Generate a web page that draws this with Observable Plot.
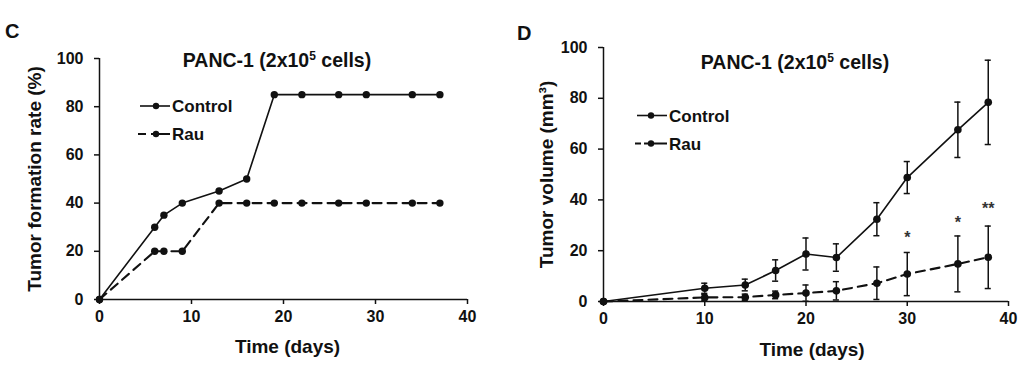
<!DOCTYPE html>
<html>
<head>
<meta charset="utf-8">
<script src="https://cdn.jsdelivr.net/npm/d3@7"></script>
<script src="https://cdn.jsdelivr.net/npm/@observablehq/plot@0.6"></script>
<style>
  html, body { margin: 0; padding: 0; background: #fff; }
  #wrap { position: relative; width: 1024px; height: 378px; background: #fff; overflow: hidden; }
  #wrap svg { position: absolute; top: 0; }
</style>
</head>
<body>
<div id="wrap"></div>
<script>
// ---- Panel C: tumor formation rate ----
const rateDays = [0, 6, 7, 9, 13, 16, 19, 22, 26, 29, 34, 37];
const rateControl = [0, 30, 35, 40, 45, 50, 85, 85, 85, 85, 85, 85];
const rateRau = [0, 20, 20, 20, 40, 40, 40, 40, 40, 40, 40, 40];

// ---- Panel D: tumor volume ----
const volDays = [0, 10, 14, 17, 20, 23, 27, 30, 35, 38];
const volControl = [0, 5.2, 6.5, 12.2, 18.7, 17.3, 32.4, 48.8, 67.6, 78.4];
const volControlErr = [0, 2.0, 2.3, 4.2, 6.3, 5.4, 6.5, 6.3, 10.9, 16.6];
const volRau = [0, 1.6, 1.7, 2.6, 3.3, 4.2, 7.2, 10.8, 14.8, 17.4];
const volRauErr = [0, 1.2, 1.2, 1.5, 3.2, 3.6, 6.4, 8.5, 11.0, 12.3];

// significance marks
const starDays = [30, 35, 38];
const starY = [26.8, 32.7, 38.2];
const starText = ["*", "*", "**"];

// ticks
const xTicks = [0, 10, 20, 30, 40];
const yTicks = [0, 20, 40, 60, 80, 100];

const seriesNames = ["Control", "Rau"];
const panelTitle = ["PANC-1 (2x10", "5", " cells)"];

const FONT = "'Liberation Sans', Arial, Helvetica, sans-serif";
const INK = "#111";

const rateData = rateDays.flatMap((d, i) => [
  {day: d, value: rateControl[i], group: "Control"},
  {day: d, value: rateRau[i], group: "Rau"}
]);
const volData = volDays.flatMap((d, i) => [
  {day: d, value: volControl[i], err: volControlErr[i], group: "Control"},
  {day: d, value: volRau[i], err: volRauErr[i], group: "Rau"}
]);
const starData = starDays.map((d, i) => ({day: d, y: starY[i], t: starText[i]}));

function commonAxes() {
  return [
    Plot.axisX({ticks: xTicks, tickSize: 5, tickPadding: 6, fontSize: 16, fontWeight: "bold", label: null, stroke: INK, strokeWidth: 1.5, fill: INK}),
    Plot.axisY({ticks: yTicks, tickSize: 5, tickPadding: 11, fontSize: 16, fontWeight: "bold", label: null, stroke: INK, strokeWidth: 1.5, fill: INK}),
    Plot.ruleY([0], {stroke: INK, strokeWidth: 1.5}),
    Plot.ruleX([0], {y1: 0, y2: 100, stroke: INK, strokeWidth: 1.5})
  ];
}

function lineMarks(data, r) {
  return [
    Plot.line(data.filter(d => d.group === "Control"), {x: "day", y: "value", stroke: INK, strokeWidth: 1.6}),
    Plot.line(data.filter(d => d.group === "Rau"), {x: "day", y: "value", stroke: INK, strokeWidth: 2.1, strokeDasharray: "9,6"}),
    Plot.dot(data, {x: "day", y: "value", r: r, fill: INK, stroke: "none"})
  ];
}

const plotC = Plot.plot({
  width: 512, height: 378,
  marginLeft: 99, marginRight: 45, marginTop: 58, marginBottom: 79,
  x: {domain: [0, 40]},
  y: {domain: [0, 100]},
  style: {fontFamily: FONT, background: "white", color: INK, overflow: "visible"},
  marks: [
    ...commonAxes(),
    ...lineMarks(rateData, 3.7),
    Plot.text(["Tumor formation rate (%)"], {frameAnchor: "left", rotate: -90, dx: -65, fontSize: 19, fontWeight: "bold", fill: INK, textAnchor: "middle", lineAnchor: "middle"}),
    Plot.text(["Time (days)"], {frameAnchor: "bottom", dy: 47, dx: 4, fontSize: 19, fontWeight: "bold", fill: INK, textAnchor: "middle", lineAnchor: "middle"})
  ]
});

const plotD = Plot.plot({
  width: 512, height: 378,
  marginLeft: 91, marginRight: 16, marginTop: 47, marginBottom: 77,
  x: {domain: [0, 40]},
  y: {domain: [0, 100]},
  style: {fontFamily: FONT, background: "white", color: INK, overflow: "visible"},
  marks: [
    ...commonAxes(),
    Plot.ruleX(volData.filter(d => d.err > 0), {x: "day", y1: d => d.value - d.err, y2: d => d.value + d.err, stroke: INK, strokeWidth: 1.5}),
    Plot.ruleY(volData.filter(d => d.err > 0), {y: d => d.value + d.err, x1: d => d.day - 0.3, x2: d => d.day + 0.3, stroke: INK, strokeWidth: 1.5}),
    Plot.ruleY(volData.filter(d => d.err > 0), {y: d => d.value - d.err, x1: d => d.day - 0.3, x2: d => d.day + 0.3, stroke: INK, strokeWidth: 1.5}),
    ...lineMarks(volData, 3.8),
    Plot.text(starData, {x: "day", y: "y", text: "t", fontSize: 16, fontWeight: "bold", fill: "#333", lineAnchor: "middle", dy: 4}),
    Plot.text(["Tumor volume (mm³)"], {frameAnchor: "left", rotate: -90, dx: -57, fontSize: 19, fontWeight: "bold", fill: INK, textAnchor: "middle", lineAnchor: "middle"}),
    Plot.text(["Time (days)"], {frameAnchor: "bottom", dy: 48, dx: 6, fontSize: 19, fontWeight: "bold", fill: INK, textAnchor: "middle", lineAnchor: "middle"})
  ]
});

const wrap = document.getElementById("wrap");
plotC.style.left = "0px";
plotD.style.left = "512px";
wrap.appendChild(plotC);
wrap.appendChild(plotD);

function decorate(svgNode, opts) {
  const svg = d3.select(svgNode);
  const g = svg.append("g").attr("font-family", FONT).attr("font-weight", "bold").attr("fill", INK).attr("text-anchor", "start");
  // panel letter
  g.append("text").attr("x", opts.letterX).attr("y", opts.letterY).attr("font-size", 20).text(opts.letter);
  // title with superscript
  const t = g.append("text").attr("x", opts.titleX).attr("y", opts.titleY).attr("text-anchor", "middle").attr("font-size", 19.5);
  t.append("tspan").text(panelTitle[0]);
  t.append("tspan").attr("font-size", 12).attr("dy", -7).text(panelTitle[1]);
  t.append("tspan").attr("dy", 7).text(panelTitle[2]);
  // legend
  seriesNames.forEach((name, i) => {
    const y = opts.legY + i * 28;
    const x0 = i === 0 ? opts.legX : opts.legX - 2;
    g.append("line").attr("x1", x0).attr("x2", opts.legX + 30).attr("y1", y).attr("y2", y)
      .attr("stroke", INK).attr("stroke-width", i === 0 ? 1.6 : 2.1)
      .attr("stroke-dasharray", i === 0 ? null : opts.legDash);
    g.append("circle").attr("cx", opts.legDot).attr("cy", y).attr("r", 3.2).attr("fill", INK);
    g.append("text").attr("x", opts.legX + 32).attr("y", y).attr("dy", "0.36em").attr("font-size", 17).text(name);
  });
}

decorate(plotC, {letter: "C", letterX: 5, letterY: 38, titleX: 277, titleY: 67, legX: 140, legY: 106, legDot: 156, legDash: "8,5,40"});
decorate(plotD, {letter: "D", letterX: 5, letterY: 40, titleX: 283, titleY: 69, legX: 125, legY: 115.5, legDot: 139, legDash: "6,3,40"});
</script>
</body>
</html>
